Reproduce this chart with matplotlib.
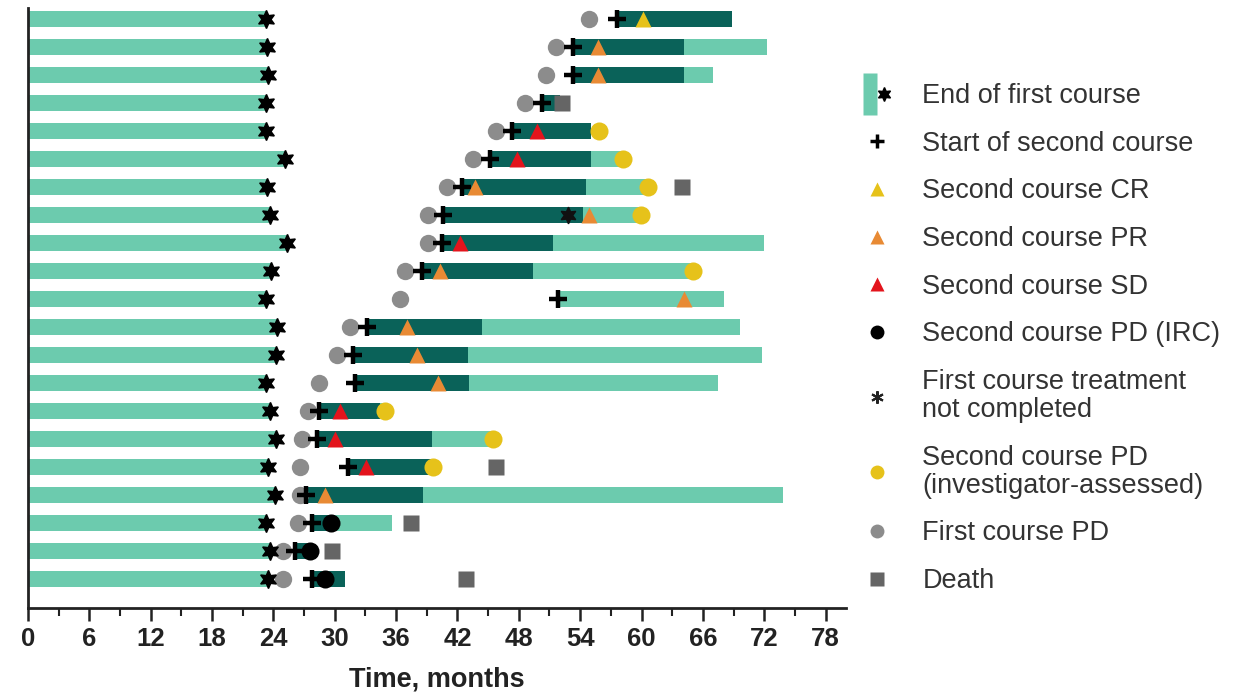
import matplotlib.pyplot as plt
import numpy as np
from matplotlib.lines import Line2D
from matplotlib.legend_handler import HandlerTuple

nan = np.nan

# one entry per patient, top row first (months)
first_end = [23.3, 23.4, 23.5, 23.3, 23.3, 25.1, 23.4, 23.7, 25.3, 23.8, 23.3,
             24.4, 24.3, 23.3, 23.7, 24.3, 23.5, 24.2, 23.3, 23.7, 23.5]
first_pd = [54.9, 51.6, 50.7, 48.6, 45.8, 43.5, 41.0, 39.1, 39.1, 36.9, 36.4,
            31.5, 30.2, 28.5, 27.4, 26.8, 26.6, 26.6, 26.4, 24.9, 24.9]
second_start = [57.6, 53.3, 53.3, 50.3, 47.3, 45.2, 42.4, 40.6, 40.5, 38.5, 51.8,
                33.2, 31.8, 32.0, 28.5, 28.3, 31.3, 27.2, 27.8, 26.1, 27.8]
second_end = [68.8, 64.2, 64.2, 52.0, 55.1, 55.1, 54.6, 54.3, 51.3, 49.4, 51.8,
              44.4, 43.0, 43.1, 34.4, 39.5, 39.6, 38.6, 30.0, 27.6, 31.0]
followup_end = [68.8, 72.3, 67.0, 52.0, 55.1, 58.2, 60.6, 59.9, 72.0, 65.0, 68.1,
                69.6, 71.8, 67.5, 34.9, 45.5, 39.6, 73.8, 35.6, 27.6, 31.0]
response = ['CR', 'PR', 'PR', None, 'SD', 'SD', 'PR', 'PR', 'SD', 'PR', 'PR',
            'PR', 'PR', 'PR', 'SD', 'SD', 'SD', 'PR', None, None, None]
response_month = [60.1, 55.7, 55.7, nan, 49.8, 47.8, 43.7, 54.9, 42.2, 40.3, 64.2,
                  37.1, 38.0, 40.1, 30.5, 30.0, 33.1, 29.0, nan, nan, nan]
pd_irc = [nan] * 18 + [29.6, 27.6, 29.0]
pd_inv = [nan, nan, nan, nan, 55.8, 58.2, 60.6, 59.9, nan, 65.0, nan,
          nan, nan, nan, 34.9, 45.5, 39.6, nan, nan, nan, nan]
not_completed = [nan] * 7 + [52.8] + [nan] * 13
death = [nan, nan, nan, 52.2, nan, nan, 64.0, nan, nan, nan, nan,
         nan, nan, nan, nan, nan, 45.8, nan, 37.5, 29.7, 42.8]

x_ticks = list(range(0, 79, 6))

light = '#6ccbae'
dark = '#0a6259'
gray = '#8c8c8c'
death_gray = '#656565'
resp_colors = {'CR': '#e6c21a', 'PR': '#e88a34', 'SD': '#e3141c'}
yellow = '#e6c21a'

n = len(first_end)
y = np.arange(n)[::-1]
first_end = np.array(first_end)
second_start = np.array(second_start)
second_end = np.array(second_end)
followup_end = np.array(followup_end)

fig = plt.figure(figsize=(12.38, 6.96), dpi=100)
ax = fig.add_axes([0.0226, 0.1264, 0.6608, 0.8621])

h = 0.55
ax.barh(y, first_end, height=h, color=light, zorder=1)
ax.barh(y, followup_end - second_start, left=second_start, height=h, color=light, zorder=1)
ax.barh(y, second_end - second_start, left=second_start, height=h, color=dark, zorder=2)

ax.plot(first_pd, y, 'o', ms=12.5, color=gray, mec='none', zorder=3)
ax.plot(second_start, y, '+', ms=13, mew=3.2, color='black', zorder=4)
for kind, c in resp_colors.items():
    sel = [i for i in range(n) if response[i] == kind]
    ax.plot([response_month[i] for i in sel], y[sel], '^', ms=12, color=c,
            mec='none', zorder=5)
ax.plot(pd_inv, y, 'o', ms=13, color=yellow, mec='none', zorder=5)
ax.plot(pd_irc, y, 'o', ms=13, color='black', mec='none', zorder=6)
ax.plot(not_completed, y, marker=(6, 1, 0), ls='none', ms=12, color='#111111', zorder=6)
ax.plot(death, y, 's', ms=12, color=death_gray, mec='none', zorder=5)
ax.plot(first_end, y, marker=(6, 1, 0), ls='none', ms=13, color='black', zorder=7)

ax.set_xlim(0, 80)
ax.set_ylim(-1.04, n - 1 + 0.39)
ax.set_yticks([])
ax.set_xticks(x_ticks)
ax.set_xticks(range(0, 80, 3), minor=True)
ax.tick_params(axis='x', which='major', length=9, width=1.8, color='#222222', pad=5)
ax.tick_params(axis='x', which='minor', length=6, width=1.5, color='#222222')
for s in ['top', 'right']:
    ax.spines[s].set_visible(False)
for s in ['left', 'bottom']:
    ax.spines[s].set_linewidth(2)
    ax.spines[s].set_color('#222222')

narrow = ['Liberation Sans Narrow', 'Liberation Sans']
for lab in ax.get_xticklabels():
    lab.set_family(narrow)
    lab.set_fontweight('bold')
    lab.set_fontsize(18.5)
    lab.set_color('#222222')
ax.set_xlabel('Time, months', family=narrow, fontweight='bold', fontsize=19.5,
              color='#222222', labelpad=11)

# legend
bar_marker = [(-0.35, -1), (0.35, -1), (0.35, 1), (-0.35, 1), (-0.35, -1)]
handles = [
    (Line2D([], [], ls='none', marker=bar_marker, ms=30, color=light, mec='none'),
     Line2D([], [], ls='none', marker=(6, 1, 0), ms=10, color='black')),
    Line2D([], [], ls='none', marker='+', ms=10, mew=2.5, color='black'),
    Line2D([], [], ls='none', marker='^', ms=10, color=resp_colors['CR'], mec='none'),
    Line2D([], [], ls='none', marker='^', ms=10, color=resp_colors['PR'], mec='none'),
    Line2D([], [], ls='none', marker='^', ms=10, color=resp_colors['SD'], mec='none'),
    Line2D([], [], ls='none', marker='o', ms=10, color='black', mec='none'),
    Line2D([], [], ls='none', marker=(6, 2, 0), ms=9, mew=1.5, color='#222222'),
    Line2D([], [], ls='none', marker='o', ms=10, color=yellow, mec='none'),
    Line2D([], [], ls='none', marker='o', ms=10, color=gray, mec='none'),
    Line2D([], [], ls='none', marker='s', ms=10, color=death_gray, mec='none'),
]
labels = ['End of first course', 'Start of second course', 'Second course CR',
          'Second course PR', 'Second course SD', 'Second course PD (IRC)',
          'First course treatment\nnot completed',
          'Second course PD\n(investigator-assessed)', 'First course PD', 'Death']
leg = fig.legend(handles, labels, loc='upper left', bbox_to_anchor=(0.6975, 0.8807),
                 frameon=False, handlelength=1.0, handletextpad=1.17,
                 labelspacing=0.8, borderpad=0, borderaxespad=0,
                 prop={'family': 'Liberation Sans', 'size': 19.5},
                 handler_map={tuple: HandlerTuple(ndivide=None)})
for t in leg.get_texts():
    t.set_color('#333333')
    t.set_linespacing(1.1)

fig.savefig('out.png', dpi=100)
